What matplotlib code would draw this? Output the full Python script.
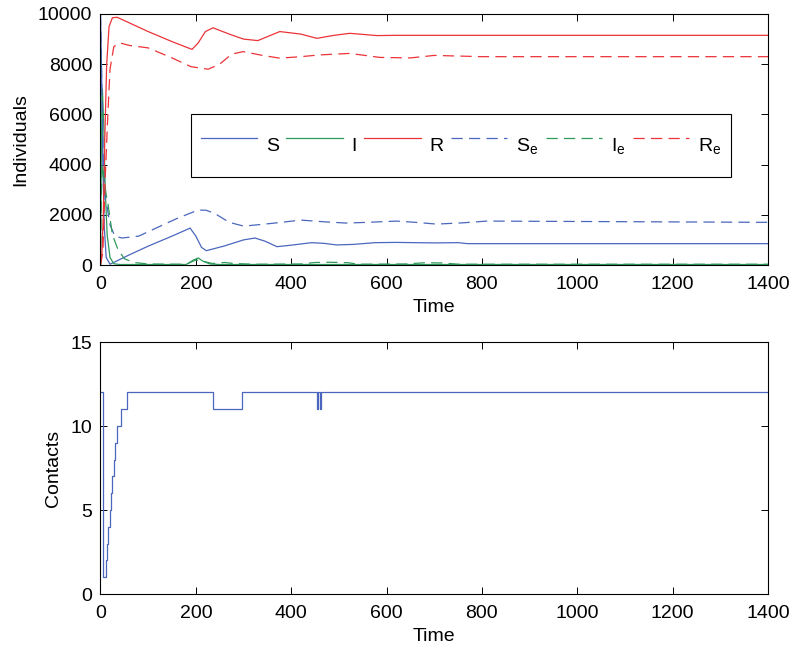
import matplotlib
matplotlib.use('Agg')
import matplotlib.pyplot as plt
import numpy as np

plt.rcParams['font.family'] = ['Liberation Sans', 'DejaVu Sans']
plt.rcParams['mathtext.default'] = 'regular'
plt.rcParams['font.size'] = 14

# top panel: population curves
t_S = [0, 2, 5, 8, 12, 20, 60, 100, 150, 188, 200, 212, 222, 260, 300, 324, 345, 370, 400, 443, 470, 495, 530, 576, 620, 700, 750, 770, 1400]
S = [10000, 8000, 4000, 1500, 300, 30, 400, 750, 1150, 1470, 1150, 700, 570, 760, 1000, 1075, 950, 730, 790, 890, 860, 800, 820, 890, 900, 880, 890, 850, 850]

t_I = [0, 2, 4, 7, 10, 14, 20, 28, 40, 180, 195, 205, 215, 230, 250, 1400]
I = [0, 5000, 7000, 5500, 3000, 1200, 300, 50, 20, 20, 200, 280, 150, 40, 20, 20]

t_R = [0, 3, 6, 9, 13, 18, 25, 35, 60, 100, 150, 192, 205, 220, 236, 270, 300, 330, 376, 420, 454, 490, 523, 580, 620, 1400]
R = [0, 500, 2000, 5000, 8000, 9500, 9850, 9870, 9650, 9300, 8900, 8590, 8850, 9300, 9450, 9200, 9000, 8940, 9300, 9200, 9030, 9150, 9230, 9140, 9150, 9150]

t_Se = [0, 3, 6, 10, 14, 20, 30, 45, 80, 120, 160, 205, 222, 240, 270, 300, 340, 380, 420, 470, 516, 560, 621, 660, 705, 760, 810, 1400]
Se = [10000, 7000, 4000, 2500, 2300, 1600, 1150, 1075, 1150, 1500, 1850, 2190, 2180, 2050, 1700, 1550, 1620, 1700, 1790, 1720, 1670, 1700, 1750, 1700, 1630, 1680, 1750, 1700]

t_Ie = [0, 2, 4, 8, 12, 16, 25, 36, 50, 70, 100, 180, 200, 215, 235, 260, 280, 320, 420, 450, 480, 520, 540, 640, 680, 720, 750, 1400]
Ie = [0, 3000, 4000, 3300, 2800, 2400, 1200, 650, 250, 100, 40, 30, 200, 150, 60, 100, 60, 30, 40, 100, 110, 90, 30, 40, 90, 80, 30, 30]

t_Re = [0, 5, 10, 15, 20, 28, 40, 60, 100, 150, 190, 226, 250, 275, 299, 340, 376, 420, 460, 523, 586, 650, 700, 800, 900, 1000, 1400]
Re = [0, 500, 3500, 5800, 7800, 8700, 8850, 8750, 8650, 8250, 7900, 7800, 8000, 8400, 8500, 8350, 8240, 8300, 8370, 8430, 8270, 8250, 8350, 8300, 8300, 8300, 8300]

# bottom panel: contacts (step changes)
t_C = [0, 6, 11, 13, 16, 19, 22, 25, 28, 31, 35, 37, 43, 55, 237, 296, 454, 456, 461, 463, 1400]
C = [12, 1, 2, 3, 4, 5, 6, 7, 8, 9, 10, 10, 11, 12, 11, 12, 11, 12, 11, 12, 12]

labels = ['S', 'I', 'R', 'S$_e$', 'I$_e$', 'R$_e$']
blue = '#4a67bd'
green = '#2f9a5c'
red = '#ec3338'

fig = plt.figure(figsize=(8, 6.54), dpi=100)
ax1 = fig.add_axes([0.1256, 0.5948, 0.8344, 0.3838])
ax2 = fig.add_axes([0.1256, 0.0917, 0.8344, 0.3853])

lw = 0.9
dsh = (9, 5)
ax1.plot(t_S, S, color=blue, lw=lw, label=labels[0])
ax1.plot(t_I, I, color=green, lw=lw, label=labels[1])
ax1.plot(t_R, R, color=red, lw=lw, label=labels[2])
ax1.plot(t_Se, Se, color=blue, lw=lw, dashes=dsh, label=labels[3])
ax1.plot(t_Ie, Ie, color=green, lw=lw, dashes=dsh, label=labels[4])
ax1.plot(t_Re, Re, color=red, lw=lw, dashes=dsh, label=labels[5])

ax1.set_xlim(0, 1400)
ax1.set_ylim(0, 10000)
ax1.set_xticks(np.arange(0, 1401, 200))
ax1.set_yticks(np.arange(0, 10001, 2000))
ax1.set_xlabel('Time', labelpad=4)
ax1.set_ylabel('Individuals', labelpad=6)
leg = ax1.legend(loc='center', bbox_to_anchor=(0.54, 0.476), ncol=6,
                 fancybox=False, framealpha=1, edgecolor='black',
                 borderpad=0.5, handleheight=3.0, handlelength=2.9,
                 handletextpad=0.45, columnspacing=0.38, fontsize=14)
leg.get_frame().set_linewidth(0.8)

ax2.plot(t_C, C, color=blue, lw=lw, drawstyle='steps-post')
ax2.set_xlim(0, 1400)
ax2.set_ylim(0, 15)
ax2.set_xticks(np.arange(0, 1401, 200))
ax2.set_yticks([0, 5, 10, 15])
ax2.set_xlabel('Time', labelpad=4)
ax2.set_ylabel('Contacts', labelpad=6)

for ax in (ax1, ax2):
    ax.tick_params(direction='in', top=True, right=True, length=5, width=0.7, labelsize=14, pad=8)
    ax.tick_params(axis='y', pad=6)
    for sp in ax.spines.values():
        sp.set_linewidth(0.8)

fig.savefig('out.png', dpi=100)
